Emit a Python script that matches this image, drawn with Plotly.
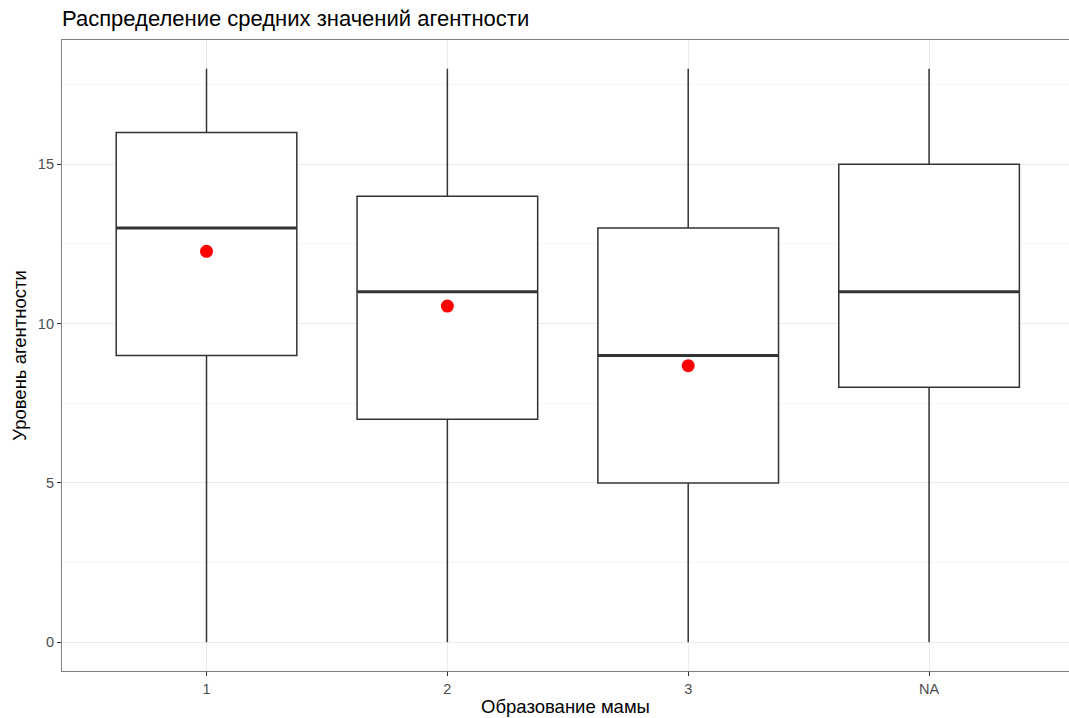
import plotly.graph_objects as go

categories = ["1", "2", "3", "NA"]
lower = [0, 0, 0, 0]
q1 = [9, 7, 5, 8]
median = [13, 11, 9, 11]
q3 = [16, 14, 13, 15]
upper = [18, 18, 18, 18]
mean_cats = ["1", "2", "3"]
means = [12.27, 10.55, 8.68]

xpos = list(range(len(categories)))
mean_pos = [categories.index(c) for c in mean_cats]
box_w = 0.75

fig = go.Figure()
fig.add_trace(go.Box(
    x=xpos, q1=q1, median=median, q3=q3, lowerfence=lower, upperfence=upper,
    width=box_w, fillcolor="white", line=dict(color="#333333", width=1.5),
    whiskerwidth=0, boxpoints=False, showlegend=False, hoverinfo="skip",
))
mx, my = [], []
for i, m in zip(xpos, median):
    mx += [i - box_w / 2, i + box_w / 2, None]
    my += [m, m, None]
fig.add_trace(go.Scatter(x=mx, y=my, mode="lines",
                         line=dict(color="#333333", width=3), showlegend=False, hoverinfo="skip"))
fig.add_trace(go.Scatter(x=mean_pos, y=means, mode="markers",
                         marker=dict(color="#ff0000", size=13), showlegend=False))

fig.update_layout(
    width=1069, height=718,
    margin=dict(l=62, r=0, t=40, b=47),
    paper_bgcolor="white", plot_bgcolor="white",
    font=dict(family="Liberation Sans, Arial, sans-serif", color="#000000"),
    title=dict(text="Распределение средних значений агентности",
               x=62 / 1069, xref="container", xanchor="left",
               y=1 - 18 / 718, yref="container", yanchor="middle",
               font=dict(size=22, color="#000000")),
    xaxis=dict(range=[-0.6, 3.581], tickvals=xpos, ticktext=categories,
               showgrid=True, gridcolor="#ebebeb", gridwidth=1,
               zeroline=False, showline=True, mirror=True, linecolor="#7f7f7f", linewidth=1.2,
               ticks="outside", ticklen=4, tickcolor="#333333",
               tickfont=dict(size=14.5, color="#4d4d4d"),
               title=dict(text="Образование мамы", font=dict(size=18.5, color="#000000"), standoff=4)),
    yaxis=dict(range=[-0.9, 18.9], tickvals=[0, 5, 10, 15],
               showgrid=True, gridcolor="#ebebeb", gridwidth=1,
               minor=dict(tickvals=[2.5, 7.5, 12.5, 17.5], showgrid=True, gridcolor="#f5f5f5", gridwidth=0.8),
               zeroline=False, showline=True, mirror=False, linecolor="#7f7f7f", linewidth=1.2,
               ticks="outside", ticklen=4, tickcolor="#333333",
               tickfont=dict(size=14.5, color="#4d4d4d"),
               title=dict(text="Уровень агентности", font=dict(size=18.5, color="#000000"), standoff=6)),
)
fig.write_html("out.html", config={"displayModeBar": False})
with open("out.html", encoding="utf-8") as f:
    html = f.read()
html = html.replace("<body>", '<body style="margin:0;padding:0;">', 1)
with open("out.html", "w", encoding="utf-8") as f:
    f.write(html)
